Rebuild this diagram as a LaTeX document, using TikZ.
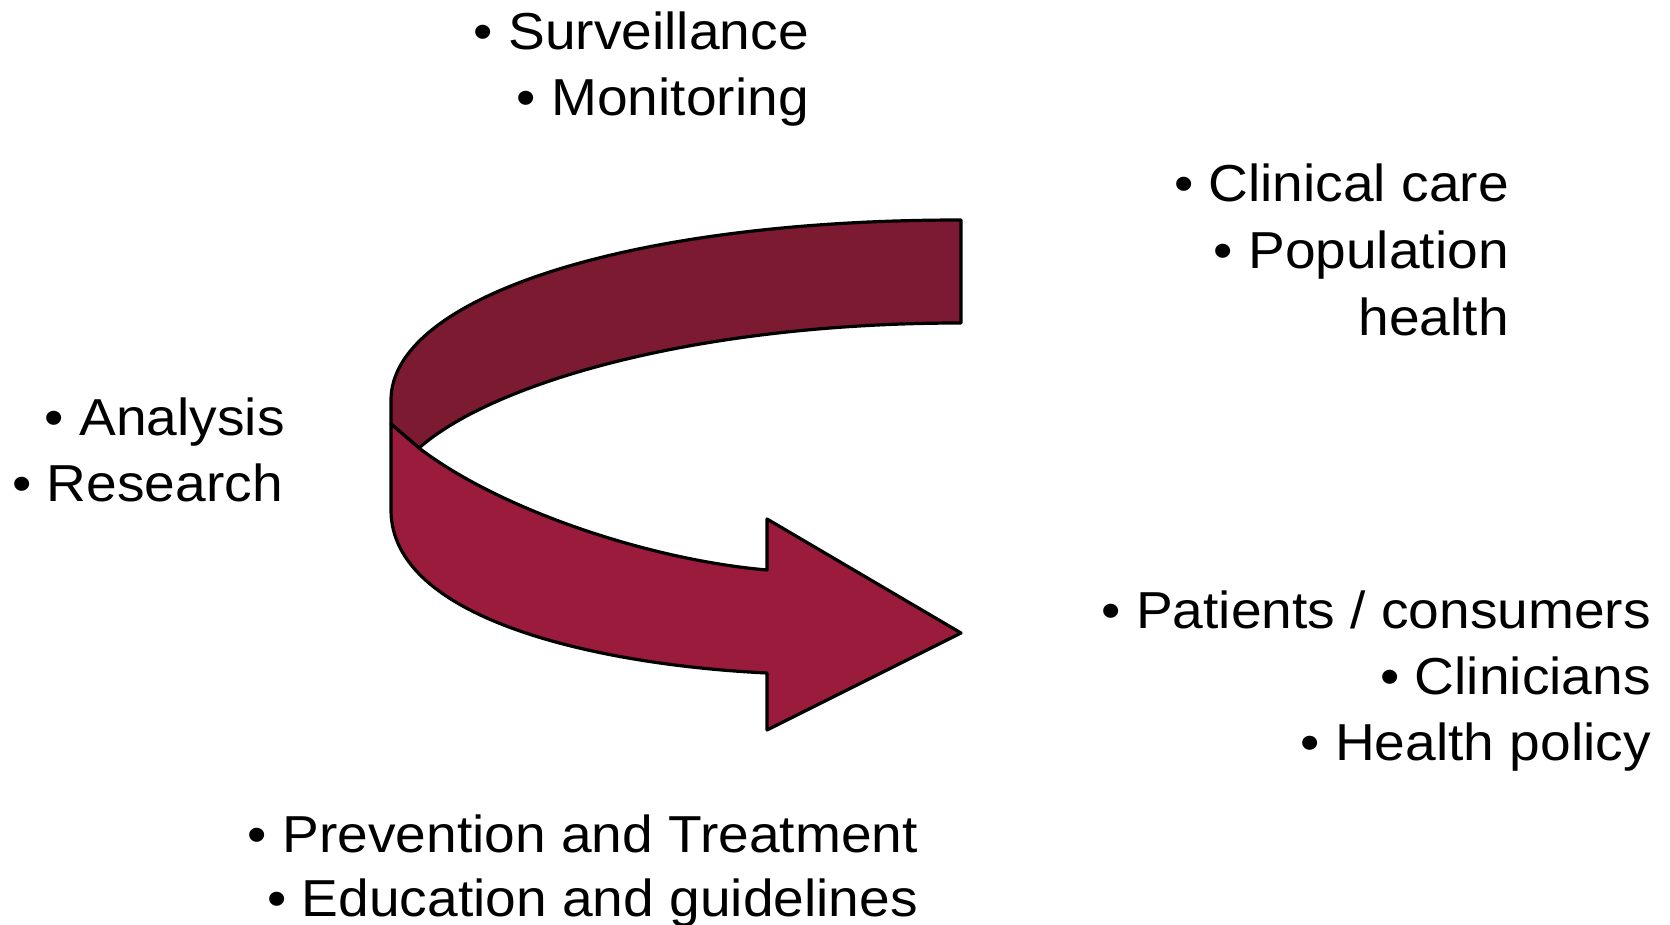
\documentclass[tikz,border=0pt]{standalone}
\usepackage{fontspec}
\setmainfont[FakeStretch=1.06]{Liberation Sans}
\definecolor{bandtop}{HTML}{7B1A30}
\definecolor{bandlow}{HTML}{9A1B3B}
\begin{document}
\begin{tikzpicture}[x=1pt,y=-1pt,
  lbl/.style={inner sep=0pt,anchor=base east,font=\fontsize{52}{62}\selectfont},
  band/.style={draw=black,line width=3.2pt,line join=round}]
\useasboundingbox (0,0) rectangle (1670,925);
% arrow
\coordinate (A) at (961,220);
\coordinate (B) at (961,323);
\coordinate (F) at (419,448);
\coordinate (L) at (391,424);
\filldraw[band,fill=bandtop] (A) -- (B) .. controls (690,323) and (490,385) .. (F) -- (L) -- (391,400) .. controls (391,300) and (620,220) .. (A) -- cycle;
\filldraw[band,fill=bandlow] (L) -- (F) .. controls (500,510) and (650,560) .. (767,570) -- (767,519) -- (961,633) -- (767,730) -- (767,673) .. controls (600,665) and (391,620) .. (391,510) -- cycle;
% labels
\node[lbl] (s1) at (809,50) {• Surveillance};
\node[lbl] (s2) at (809,116) {• Monitoring};
\node[lbl] (c1) at (1509,202) {• Clinical care};
\node[lbl] (c2) at (1509,269) {• Population};
\node[lbl] (c3) at (1509,335) {health};
\node[lbl] (a1) at (285,435) {• Analysis};
\node[lbl] (a2) at (283,501) {• Research};
\node[lbl] (p1) at (1651,628) {• Patients / consumers};
\node[lbl] (p2) at (1651,694) {• Clinicians};
\node[lbl] (p3) at (1651,760) {• Health policy};
\node[lbl] (e1) at (918,852) {• Prevention and Treatment};
\node[lbl] (e2) at (918,916) {• Education and guidelines};
\end{tikzpicture}
\end{document}
